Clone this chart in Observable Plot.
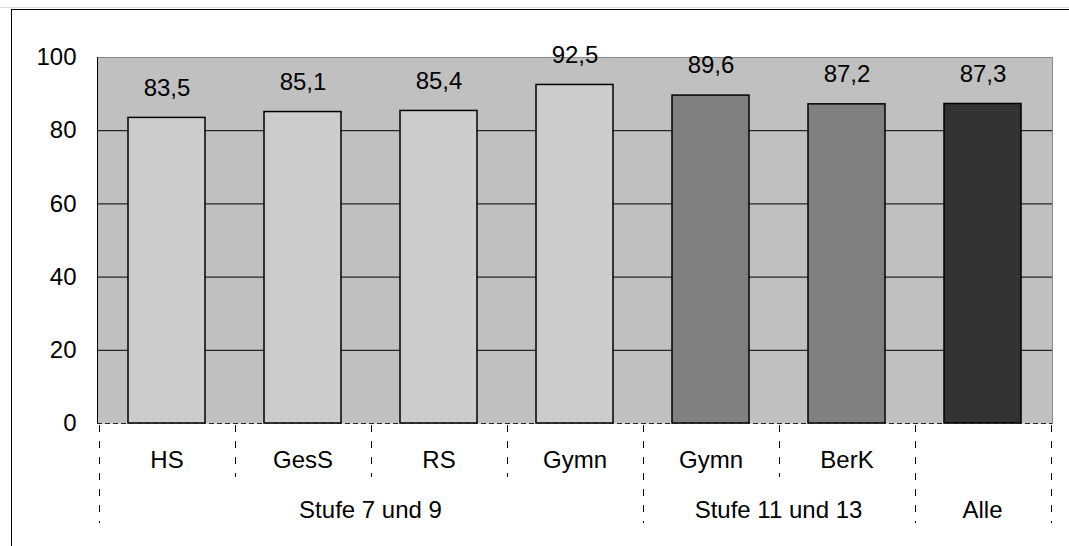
<!DOCTYPE html>
<html>
<head>
<meta charset="utf-8">
<script src="https://cdn.jsdelivr.net/npm/d3@7"></script>
<script src="https://cdn.jsdelivr.net/npm/@observablehq/plot@0.6"></script>
<style>
  html, body { margin: 0; padding: 0; background: white; overflow: hidden; }
  #chart { position: relative; width: 1069px; height: 546px; }
</style>
</head>
<body>
<div id="chart"></div>
<script>
// ---- data ----
const schoolTypes = ["HS", "GesS", "RS", "Gymn", "Gymn", "BerK", ""];
const levels = ["Stufe 7 und 9", "Stufe 7 und 9", "Stufe 7 und 9", "Stufe 7 und 9", "Stufe 11 und 13", "Stufe 11 und 13", "Alle"];
const values = [83.5, 85.1, 85.4, 92.5, 89.6, 87.2, 87.3];
const levelOrder = ["Stufe 7 und 9", "Stufe 11 und 13", "Alle"];
const yTicks = [0, 20, 40, 60, 80, 100];

const rows = values.map((v, i) => ({i, type: schoolTypes[i], level: levels[i], value: v}));
const fmt = v => v.toFixed(1).replace(".", ",");

const FONT = "'Liberation Sans', Arial, sans-serif";

const chart = Plot.plot({
  width: 1069,
  height: 546,
  marginLeft: 97,
  marginRight: 17,
  marginTop: 57,
  marginBottom: 123,
  style: {fontFamily: FONT, fontSize: "24px", color: "black", background: "white", overflow: "visible"},
  x: {domain: d3.range(values.length), paddingInner: 0.435, paddingOuter: 0.2175, axis: null},
  y: {domain: [0, 100], ticks: yTicks, tickSize: 0, tickPadding: 21, label: null},
  color: {domain: levelOrder, range: ["#cccccc", "#808080", "#333333"]},
  marks: [
    Plot.frame({fill: "#c0c0c0", stroke: null}),
    Plot.frame({anchor: "top", stroke: "#8a8a8a"}),
    Plot.frame({anchor: "right", stroke: "#8a8a8a"}),
    Plot.gridY({ticks: [20, 40, 60, 80], stroke: "black", strokeOpacity: 1, strokeWidth: 1}),
    Plot.frame({anchor: "left", stroke: "black"}),
    Plot.barY(rows, {x: "i", y: "value", fill: "level", stroke: "black", strokeWidth: 1.5}),
    Plot.ruleY([0], {stroke: "#222", strokeDasharray: "5,3", strokeWidth: 1}),
    Plot.text(rows, {x: "i", y: "value", text: d => fmt(d.value), dy: -30, fontSize: 24, fill: "black"}),
    Plot.text(rows, {x: "i", text: "type", frameAnchor: "bottom", lineAnchor: "middle", dy: 37, fontSize: 24, fill: "black"})
  ]
});

document.getElementById("chart").appendChild(chart);

// ---- lower category separators and group labels, placed via the plot's scales ----
const xs = chart.scale("x");
const ys = chart.scale("y");
const y0 = ys.apply(0);
const halfGap = (xs.step - xs.bandwidth) / 2;
const leftEdge = i => xs.apply(i) - halfGap;
const rightEdge = i => xs.apply(i) + xs.bandwidth + halfGap;
const svg = d3.select(chart);

const boundaries = [];
for (let i = 0; i <= values.length; i++) {
  const isGroupEdge = i === 0 || i === values.length || levels[i] !== levels[i - 1];
  const x = i < values.length ? leftEdge(i) : rightEdge(values.length - 1);
  boundaries.push({x, long: isGroupEdge});
}
svg.append("g")
  .attr("stroke", "black")
  .attr("stroke-width", 1)
  .attr("stroke-dasharray", "7,9")
  .selectAll("line")
  .data(boundaries)
  .join("line")
  .attr("x1", d => Math.round(d.x) + 0.5)
  .attr("x2", d => Math.round(d.x) + 0.5)
  .attr("y1", y0 + 2)
  .attr("y2", d => d.long ? y0 + 100 : y0 + 54);

const groups = levelOrder.map(l => {
  const idx = levels.map((v, i) => v === l ? i : -1).filter(i => i >= 0);
  return {label: l, x: (leftEdge(idx[0]) + rightEdge(idx[idx.length - 1])) / 2};
});
svg.append("g")
  .attr("font-family", FONT)
  .attr("font-size", 24)
  .attr("text-anchor", "middle")
  .selectAll("text")
  .data(groups)
  .join("text")
  .attr("x", d => d.x)
  .attr("y", y0 + 87)
  .attr("dy", "0.32em")
  .text(d => d.label);

// outer chart border
svg.append("rect")
  .attr("x", 11.5).attr("y", 9.5)
  .attr("width", 1200).attr("height", 700)
  .attr("fill", "none").attr("stroke", "black").attr("stroke-width", 1);
svg.append("line")
  .attr("x1", 0).attr("x2", 1069).attr("y1", 7.5).attr("y2", 7.5)
  .attr("stroke", "#d8d8d8").attr("stroke-width", 1);
</script>
</body>
</html>
